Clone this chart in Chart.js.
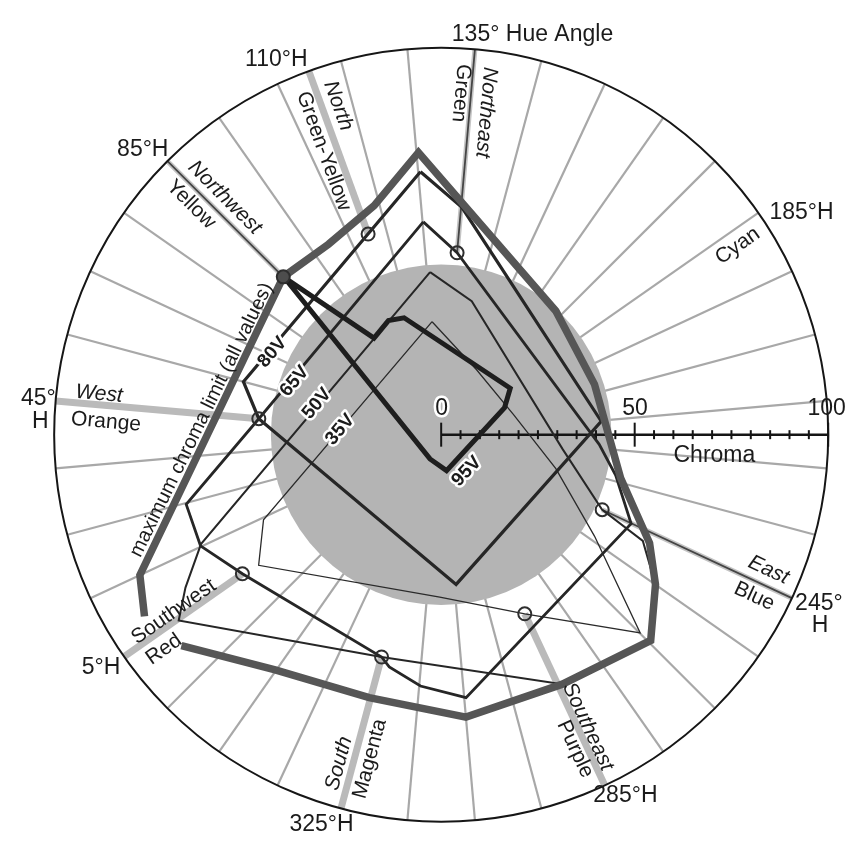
<!DOCTYPE html>
<html>
<head>
<meta charset="utf-8">
<title>Hue angle and chroma limits</title>
<script src="https://cdn.jsdelivr.net/npm/chart.js@4/dist/chart.umd.min.js"></script>
<style>
  html, body { margin: 0; padding: 0; background: #fff; }
  canvas { display: block; }
</style>
</head>
<body>
<canvas id="hueChart" width="863" height="850"></canvas>
<script>
// all points are [CIELAB hue angle, chroma]
const maxChromaHue    = [8.5, 15, 85, 99.4, 113.7, 125.4, 172.8, 201.8, 218.3, 233.6, 247.5, 255, 264.5, 284.1, 305, 325.3, 345.2, 0.9];
const maxChromaValues = [89.9, 85.9, 57.7, 57.2, 61.7, 73.2, 43.6, 41.7, 42.9, 47.7, 60.7, 67.6, 75.9, 71.7, 73.3, 70.5, 74.4, 86.5];

const v95Hue    = [85, 95.2, 105.2, 112.4, 186.1, 196.9, 301.5, 334.7, 84.9];
const v95Chroma = [57.7, 30.4, 32.5, 31.7, 21.5, 17.8, 9.4, 6.9, 56];

const v80Hue    = [125.5, 135.2, 215.2, 304.3, 45, 55];
const v80Chroma = [68.2, 59, 41.5, 38.9, 47.3, 52.9];

const v65Hue    = [125.2, 135, 223.5, 233.1, 245.1, 304.6, 314.7, 322.6, 325, 5, 15.2, 24.7, 45];
const v65Chroma = [55.2, 47.2, 40.9, 46.3, 54.2, 68.3, 65.2, 61.5, 59.5, 62.7, 68.5, 68.3, 47.3];

const v50Hue    = [126.1, 142.9, 226.8, 245, 247.8, 255, 264.5, 284.1, 325, 4.7, 9.1, 15.5];
const v50Chroma = [42.1, 35.4, 31.6, 45.9, 58.9, 67.6, 75.9, 71.7, 59.5, 83.1, 77, 68.2];

const v35Hue    = [125.4, 158.6, 205.2, 236.5, 253.5, 264.9, 285, 310.5, 4.4, 14.4];
const v35Chroma = [29.3, 19.1, 19.5, 30.9, 47.5, 72.6, 51.1, 42, 58, 50.9];

// named hues with their circle markers
const markerHue    = [5, 45, 85, 110, 135, 245, 285, 325];
const markerChroma = [62.7, 47.3, 57.7, 55.2, 47.2, 45.9, 51.1, 59.5];

const regularSpokeHues = [15, 25, 35, 55, 65, 75, 95, 105, 115, 125, 145, 155, 165, 175, 185, 195,
                          205, 215, 225, 235, 255, 265, 275, 295, 305, 315, 335, 345, 355];
const bandSpokeHues = [5, 45, 110, 285, 325];
const darkSpokeHues = [85, 135, 245];

const chromaTicks = [0, 5, 10, 15, 20, 25, 30, 35, 40, 45, 50, 55, 60, 65, 70, 75, 80, 85, 90, 95, 100];
const diskChroma = 44;

// hue 220 points along the chroma axis; hue grows clockwise
function polar(h, c) {
    const a = (220 - h) * Math.PI / 180;
    return { x: c * Math.cos(a), y: c * Math.sin(a) };
}

function path(hues, chromas, closed) {
    const pts = hues.map((h, i) => polar(h, chromas[i]));
    if (closed) pts.push(pts[0]);
    return pts;
}

const FONT = '"Liberation Sans", Arial, Helvetica, sans-serif';
const big = '23px ' + FONT;
const name = '21px ' + FONT;
const dir = 'italic 21px ' + FONT;
const vlab = 'bold 19px ' + FONT;

// text: x / y in chroma units, rotation in degrees
const labels = [
    { t: '135\u00b0 Hue Angle', x: 23.6, y: 103.3, r: 0, f: big },
    { t: '110\u00b0H', x: -42.6, y: 97, r: 0, f: big },
    { t: '85\u00b0H', x: -77.1, y: 73.8, r: 0, f: big },
    { t: '45\u00b0', x: -104.1, y: 9.3, r: 0, f: big },
    { t: 'H', x: -103.6, y: 3.3, r: 0, f: big },
    { t: '5\u00b0H', x: -87.9, y: -60.3, r: 0, f: big },
    { t: '325\u00b0H', x: -30.9, y: -100.8, r: 0, f: big },
    { t: '285\u00b0H', x: 47.6, y: -93.3, r: 0, f: big },
    { t: '245\u00b0', x: 97.6, y: -43.8, r: 0, f: big },
    { t: 'H', x: 97.9, y: -49.5, r: 0, f: big },
    { t: '185\u00b0H', x: 93.1, y: 57.5, r: 0, f: big },
    { t: 'Cyan', x: 76.6, y: 48.8, r: -35, f: name },
    { t: 'East', x: 84.6, y: -35, r: 25, f: dir },
    { t: 'Blue', x: 80.9, y: -41.8, r: 25, f: name },
    { t: 'West', x: -88.4, y: 10.5, r: 5, f: dir },
    { t: 'Orange', x: -86.6, y: 3.3, r: 5, f: name },
    { t: 'Northwest', x: -55.9, y: 61.3, r: 45, f: dir },
    { t: 'Yellow', x: -64.6, y: 59.5, r: 45, f: name },
    { t: 'North', x: -26.6, y: 85, r: 70, f: dir },
    { t: 'Green-Yellow', x: -30.4, y: 73.3, r: 70, f: name },
    { t: 'Northeast', x: 11.6, y: 83.3, r: 95, f: dir },
    { t: 'Green', x: 5.1, y: 88.3, r: 95, f: name },
    { t: 'Southeast', x: 37.9, y: -75.5, r: 65, f: dir },
    { t: 'Purple', x: 34.6, y: -81.3, r: 65, f: name },
    { t: 'South', x: -26.4, y: -85, r: -75, f: dir },
    { t: 'Magenta', x: -18.4, y: -83.8, r: -75, f: name },
    { t: 'Southwest', x: -69.1, y: -45.8, r: -35, f: name },
    { t: 'Red', x: -71.6, y: -55.5, r: -35, f: name },
    { t: 'maximum chroma limit (all values)', x: -61.9, y: 3.8, r: -64, f: '20px ' + FONT },
    { t: '80V', x: -43.6, y: 21.3, r: -50, f: vlab, halo: true },
    { t: '65V', x: -37.9, y: 13.8, r: -50, f: vlab, halo: true },
    { t: '50V', x: -32.1, y: 8, r: -50, f: vlab, halo: true },
    { t: '35V', x: -26.1, y: 1.3, r: -50, f: vlab, halo: true },
    { t: '95V', x: 6.6, y: -9.5, r: -47, f: vlab, halo: true },
    { t: '0', x: 0.1, y: 6.8, r: 0, f: big, halo: true },
    { t: '50', x: 50.1, y: 6.8, r: 0, f: big },
    { t: '100', x: 99.6, y: 6.8, r: 0, f: big },
    { t: 'Chroma', x: 70.6, y: -5.5, r: 0, f: big }
];

const polarFrame = {
    id: 'polarFrame',
    beforeDatasetsDraw(chart) {
        const { ctx, scales: { x, y } } = chart;
        const pix = (h, c) => {
            const p = polar(h, c);
            return [x.getPixelForValue(p.x), y.getPixelForValue(p.y)];
        };
        const spoke = (h, c0, c1, color, width) => {
            const [x0, y0] = pix(h, c0);
            const [x1, y1] = pix(h, c1);
            ctx.beginPath();
            ctx.moveTo(x0, y0);
            ctx.lineTo(x1, y1);
            ctx.strokeStyle = color;
            ctx.lineWidth = width;
            ctx.stroke();
        };
        const inner = h => markerChroma[markerHue.indexOf(h)];

        ctx.save();
        regularSpokeHues.forEach(h => spoke(h, diskChroma - 4, 100, '#a8a8a8', 2.2));
        bandSpokeHues.forEach(h => spoke(h, inner(h), 100, '#bababa', 7));
        darkSpokeHues.forEach(h => {
            spoke(h, inner(h), 100, '#c4c4c4', 5);
            spoke(h, inner(h), 100, '#454545', 1.8);
        });

        // shaded disk and the outer chroma 100 circle
        const cx = x.getPixelForValue(0), cy = y.getPixelForValue(0);
        ctx.beginPath();
        ctx.arc(cx, cy, x.getPixelForValue(diskChroma) - cx, 0, Math.PI * 2);
        ctx.fillStyle = '#b4b4b4';
        ctx.fill();
        ctx.beginPath();
        ctx.arc(cx, cy, x.getPixelForValue(100) - cx, 0, Math.PI * 2);
        ctx.strokeStyle = '#161616';
        ctx.lineWidth = 2;
        ctx.stroke();
        ctx.restore();
    },
    afterDatasetsDraw(chart) {
        const { ctx, scales: { x, y } } = chart;
        ctx.save();
        ctx.textAlign = 'center';
        ctx.textBaseline = 'middle';
        labels.forEach(l => {
            ctx.save();
            ctx.translate(x.getPixelForValue(l.x), y.getPixelForValue(l.y));
            ctx.rotate(l.r * Math.PI / 180);
            ctx.font = l.f;
            if (l.halo) {
                ctx.lineWidth = 5;
                ctx.lineJoin = 'round';
                ctx.strokeStyle = '#ffffff';
                ctx.strokeText(l.t, 0, 0);
            }
            ctx.fillStyle = '#1b1b1b';
            ctx.fillText(l.t, 0, 0);
            ctx.restore();
        });
        ctx.restore();
    }
};

function lineSet(label, data, color, width, order) {
    return {
        label: label,
        data: data,
        showLine: true,
        borderColor: color,
        borderWidth: width,
        borderJoinStyle: 'miter',
        pointRadius: 0,
        fill: false,
        order: order
    };
}

const ctx = document.getElementById('hueChart').getContext('2d');
new Chart(ctx, {
    type: 'scatter',
    data: {
        datasets: [
            {
                label: 'markers',
                data: path(markerHue, markerChroma, false),
                pointRadius: 6.5,
                pointBorderWidth: 2,
                pointBorderColor: '#2e2e2e',
                pointBackgroundColor: markerHue.map(h => h === 85 ? '#4d4d4d' : 'rgba(255,255,255,0)'),
                showLine: false,
                order: 1
            },
            lineSet('95V', path(v95Hue, v95Chroma, true), '#1e1e1e', 5, 2),
            lineSet('max chroma', path(maxChromaHue, maxChromaValues, false), '#565656', 7.5, 3),
            lineSet('80V', path(v80Hue, v80Chroma, true), '#262626', 3.2, 4),
            lineSet('65V', path(v65Hue, v65Chroma, true), '#262626', 2.8, 5),
            lineSet('50V', path(v50Hue, v50Chroma, true), '#262626', 2, 6),
            lineSet('35V', path(v35Hue, v35Chroma, true), '#2a2a2a', 1.3, 7),
            {
                label: 'chroma ticks',
                data: chromaTicks.map(c => ({ x: c, y: 0 })),
                showLine: false,
                pointStyle: 'line',
                rotation: 90,
                pointRadius: chromaTicks.map(c => c % 50 === 0 ? 12 : 4.5),
                pointBorderWidth: 2,
                pointBorderColor: '#151515',
                order: 8
            },
            lineSet('chroma axis', [{ x: chromaTicks[0], y: 0 }, { x: chromaTicks[chromaTicks.length - 1], y: 0 }], '#151515', 2.5, 9)
        ]
    },
    options: {
        responsive: false,
        animation: false,
        events: [],
        layout: { padding: 0 },
        plugins: {
            legend: { display: false },
            tooltip: { enabled: false }
        },
        scales: {
            x: { type: 'linear', min: -110.375, max: 105.375, display: false },
            y: { type: 'linear', min: -103.75, max: 108.75, display: false }
        }
    },
    plugins: [polarFrame]
});
</script>
</body>
</html>
